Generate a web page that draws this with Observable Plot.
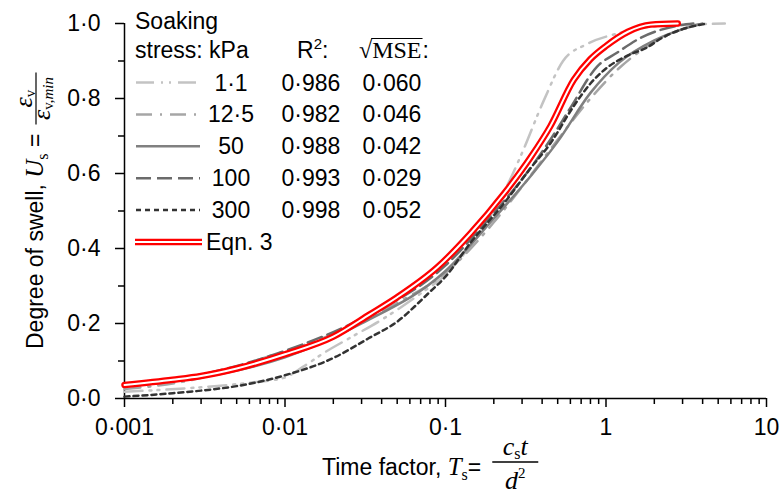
<!DOCTYPE html>
<html><head><meta charset="utf-8">
<script src="https://cdn.jsdelivr.net/npm/d3@7"></script>
<script src="https://cdn.jsdelivr.net/npm/@observablehq/plot@0.6"></script>
<style>
body{margin:0;background:#fff;}
#chart{width:780px;height:494px;overflow:hidden;}
</style></head><body><div id="chart"></div>
<script>
// ---- data ----
const seriesNames = ["1·1", "12·5", "50", "100", "300"];
const r2Values = ["0·986", "0·982", "0·988", "0·993", "0·998"];
const rmseValues = ["0·060", "0·046", "0·042", "0·029", "0·052"];
const xMajorTicks = [0.001, 0.01, 0.1, 1, 10];
const yMajorTicks = [0, 0.2, 0.4, 0.6, 0.8, 1.0];
const yMinorTicks = [0.1, 0.3, 0.5, 0.7, 0.9];

const T_1_1 = [0.001,0.003,0.006,0.01,0.013,0.018,0.025,0.04,0.07,0.1,0.15,0.2,0.25,0.3,0.41,0.54,0.76,1.17,1.8,3,5.5];
const U_1_1 = [0.018,0.03,0.042,0.056,0.085,0.125,0.16,0.21,0.28,0.33,0.42,0.5,0.58,0.655,0.795,0.9,0.945,0.973,0.99,0.996,1.0];
const T_12_5 = [0.001,0.003,0.007,0.02,0.05,0.1,0.2,0.3,0.5,0.8,1.2,2,3,4];
const U_12_5 = [0.025,0.055,0.105,0.172,0.255,0.335,0.47,0.565,0.69,0.8,0.88,0.95,0.985,1.0];
const T_50 = [0.001,0.002,0.004,0.01,0.03,0.1,0.2,0.35,0.5,0.8,1.2,2,3,4];
const U_50 = [0.033,0.046,0.066,0.11,0.2,0.34,0.48,0.6,0.685,0.815,0.895,0.955,0.985,1.0];
const T_100 = [0.001,0.003,0.01,0.03,0.1,0.2,0.3,0.45,0.6,0.88,1.17,1.65,2.7,3.5];
const U_100 = [0.035,0.064,0.127,0.213,0.355,0.495,0.585,0.69,0.775,0.885,0.922,0.962,0.993,1.0];
const T_300 = [0.001,0.002,0.003,0.005,0.01,0.02,0.033,0.05,0.078,0.1,0.143,0.231,0.34,0.45,0.63,0.8,1.0,1.37,1.8,2.2,3.0,4.3];
const U_300 = [0.005,0.014,0.021,0.033,0.062,0.108,0.16,0.205,0.28,0.325,0.415,0.52,0.615,0.68,0.78,0.84,0.88,0.915,0.936,0.96,0.985,1.0];
const T_eqn = [0.001,0.002,0.003,0.005,0.01,0.02,0.034,0.05,0.089,0.143,0.231,0.339,0.45,0.63,0.8,1.0,1.37,1.9,2.8];
const U_eqn = [0.036,0.05,0.06,0.08,0.118,0.165,0.225,0.27,0.35,0.44,0.546,0.643,0.726,0.85,0.905,0.94,0.978,0.997,1.0];

// ---- styles ----
const styles = [
  {stroke: "#c3c3c3", width: 2.5, dash: "18,7,2,6,2,7"},
  {stroke: "#a6a6a6", width: 2.5, dash: "16,8,2,8"},
  {stroke: "#808080", width: 2.5, dash: null},
  {stroke: "#6b6b6b", width: 2.5, dash: "15,6"},
  {stroke: "#333333", width: 2.5, dash: "5,4"}
];
const Ts = [T_1_1, T_12_5, T_50, T_100, T_300];
const Us = [U_1_1, U_12_5, U_50, U_100, U_300];
const seriesData = Ts.map((T, i) => T.map((t, j) => ({T: t, U: Us[i][j]})));
const eqnData = T_eqn.map((t, j) => ({T: t, U: U_eqn[j]}));

const xMinorTicks = [];
for (let e = -3; e < 1; e++) for (let k = 2; k <= 9; k++) xMinorTicks.push(k * Math.pow(10, e));

const dotFmt = s => s.replace(".", "·");
const sans = "'Liberation Sans', Arial, sans-serif";
const serif = "'Liberation Serif', 'Times New Roman', serif";

const lineMarks = seriesData.map((d, i) => Plot.line(d, {
  x: "T", y: "U", stroke: styles[i].stroke, strokeWidth: styles[i].width,
  strokeDasharray: styles[i].dash, curve: "monotone-x"
}));

const plot = Plot.plot({
  width: 780, height: 494,
  marginLeft: 124, marginRight: 14, marginTop: 23, marginBottom: 96,
  x: {type: "log", domain: [0.001, 10]},
  y: {domain: [0, 1]},
  style: {fontFamily: sans, fontSize: "23px", color: "#000", background: "#fff", overflow: "visible"},
  marks: [
    Plot.axisX({ticks: xMinorTicks, tickSize: 6, tickFormat: () => "", label: null, strokeWidth: 1.5}),
    Plot.axisX({ticks: xMajorTicks, tickSize: 9, tickPadding: 11, label: null, strokeWidth: 1.5,
      tickFormat: d => dotFmt(String(d))}),
    Plot.axisY({ticks: yMinorTicks, tickSize: 6, tickFormat: () => "", label: null, strokeWidth: 1.5}),
    Plot.axisY({ticks: yMajorTicks, tickSize: 9, tickPadding: 15, label: null, strokeWidth: 1.5,
      tickFormat: d => dotFmt(d.toFixed(1))}),
    Plot.ruleY([0], {strokeWidth: 1.5}),
    Plot.ruleX([0.001], {strokeWidth: 1.5}),
    ...lineMarks,
    Plot.line(eqnData, {x: "T", y: "U", stroke: "#ff0000", strokeWidth: 6.5, curve: "monotone-x"}),
    Plot.line(eqnData, {x: "T", y: "U", stroke: "#ffffff", strokeWidth: 2, curve: "monotone-x"})
  ]
});
document.getElementById("chart").appendChild(plot);

// ---- legend and labels ----
const svg = d3.select(plot);
const g = svg.append("g").attr("font-family", sans).attr("font-size", 23).attr("fill", "#000")
  .attr("text-anchor", "start").style("text-anchor", "start");
g.append("text").attr("x", 135).attr("y", 29).text("Soaking");
g.append("text").attr("x", 135).attr("y", 58).text("stress: kPa");
const r2h = g.append("text").attr("x", 297).attr("y", 58);
r2h.append("tspan").text("R");
r2h.append("tspan").attr("font-size", 15).attr("dy", -9).text("2");
r2h.append("tspan").attr("dy", 9).text(":");

const sq = g.append("text").attr("x", 359).attr("y", 58).attr("font-family", serif).attr("font-size", 24).text("√");
const w1 = sq.node().getComputedTextLength();
const ms = g.append("text").attr("x", 359 + w1).attr("y", 58).attr("font-family", serif).attr("font-size", 24).text("MSE");
const w2 = ms.node().getComputedTextLength();
g.append("line").attr("x1", 359 + w1 - 1).attr("x2", 359 + w1 + w2 + 1).attr("y1", 38.5).attr("y2", 38.5)
  .attr("stroke", "#000").attr("stroke-width", 1.2);
g.append("text").attr("x", 359 + w1 + w2 + 1).attr("y", 58).text(":");

const rowY = i => 82.5 + 31.9 * i;
seriesNames.forEach((name, i) => {
  const y = rowY(i);
  g.append("line").attr("x1", 136).attr("x2", 200).attr("y1", y).attr("y2", y)
    .attr("stroke", styles[i].stroke).attr("stroke-width", styles[i].width)
    .attr("stroke-dasharray", styles[i].dash);
  g.append("text").attr("x", 231).attr("y", y + 8).style("text-anchor", "middle").text(name);
  g.append("text").attr("x", 311).attr("y", y + 8).style("text-anchor", "middle").text(r2Values[i]);
  g.append("text").attr("x", 392).attr("y", y + 8).style("text-anchor", "middle").text(rmseValues[i]);
});
const ye = rowY(5);
g.append("line").attr("x1", 135).attr("x2", 202).attr("y1", ye).attr("y2", ye).attr("stroke", "#ff0000").attr("stroke-width", 6.5);
g.append("line").attr("x1", 135).attr("x2", 202).attr("y1", ye).attr("y2", ye).attr("stroke", "#fff").attr("stroke-width", 2);
g.append("text").attr("x", 206).attr("y", ye + 8).text("Eqn. 3");

// x axis label
const xl = g.append("text").attr("x", 322).attr("y", 475);
xl.append("tspan").text("Time factor, ");
xl.append("tspan").attr("font-family", serif).attr("font-style", "italic").attr("font-size", 25).text("T");
xl.append("tspan").attr("font-family", serif).attr("font-size", 16).attr("dy", 5).text("s");
xl.append("tspan").attr("dy", -5).text("=");
const xlw = xl.node().getComputedTextLength();
const fx0 = 322 + xlw + 11, fw = 46;
g.append("line").attr("x1", fx0).attr("x2", fx0 + fw).attr("y1", 462).attr("y2", 462).attr("stroke", "#000").attr("stroke-width", 1.3);
const num = g.append("text").attr("x", fx0 + fw / 2).attr("y", 455).style("text-anchor", "middle").attr("font-family", serif).attr("font-size", 26);
num.append("tspan").attr("font-style", "italic").text("c");
num.append("tspan").attr("font-size", 16).attr("dy", 4).text("s");
num.append("tspan").attr("font-style", "italic").attr("dy", -4).text("t");
const den = g.append("text").attr("x", fx0 + fw / 2).attr("y", 489).style("text-anchor", "middle").attr("font-family", serif).attr("font-size", 26);
den.append("tspan").attr("font-style", "italic").text("d");
den.append("tspan").attr("font-size", 15).attr("dy", -11).text("2");

// y axis label (rotated)
const gy = g.append("g").attr("transform", "rotate(-90)");
const yl = gy.append("text").attr("x", -349).attr("y", 43);
yl.append("tspan").text("Degree of swell, ");
yl.append("tspan").attr("font-family", serif).attr("font-style", "italic").attr("font-size", 25).text("U");
yl.append("tspan").attr("font-family", serif).attr("font-size", 16).attr("dy", 5).text("s");
yl.append("tspan").attr("dy", -5).text(" =");
const ylw = yl.node().getComputedTextLength();
const fy0 = -349 + ylw + 9, fyw = 52;
gy.append("line").attr("x1", fy0).attr("x2", fy0 + fyw).attr("y1", 36).attr("y2", 36).attr("stroke", "#000").attr("stroke-width", 1.2);
const ynum = gy.append("text").attr("x", fy0 + fyw / 2).attr("y", 32).style("text-anchor", "middle").attr("font-family", serif).attr("font-size", 26);
ynum.append("tspan").attr("font-style", "italic").text("ε");
ynum.append("tspan").attr("font-size", 15).attr("dy", 3).text("v");
const yden = gy.append("text").attr("x", fy0 + fyw / 2).attr("y", 50).style("text-anchor", "middle").attr("font-family", serif).attr("font-size", 26);
yden.append("tspan").attr("font-style", "italic").text("ε");
yden.append("tspan").attr("font-size", 15).attr("dy", 3).text("v,");
yden.append("tspan").attr("font-size", 15).attr("font-style", "italic").text("min");
</script>
</body></html>
